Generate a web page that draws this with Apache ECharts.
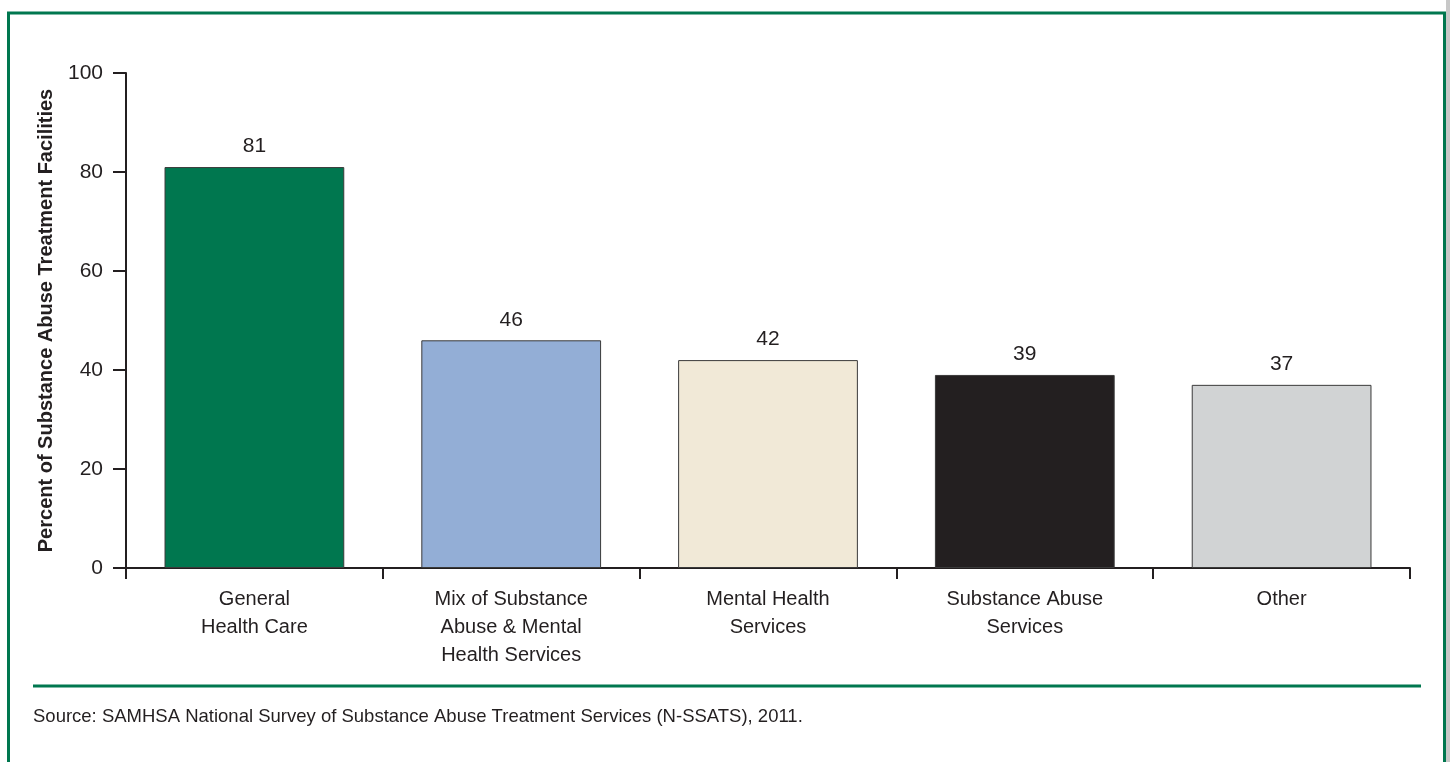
<!DOCTYPE html>
<html>
<head>
<meta charset="utf-8">
<script src="https://cdn.jsdelivr.net/npm/echarts@6/dist/echarts.min.js"></script>
<style>
  html, body { margin: 0; padding: 0; background: #ffffff; }
  #chart { width: 1450px; height: 762px; }
</style>
</head>
<body>
<div id="chart"></div>
<script>
// Facility types and the share of facilities offering each
const categories = [
  'General\nHealth Care',
  'Mix of Substance\nAbuse & Mental\nHealth Services',
  'Mental Health\nServices',
  'Substance Abuse\nServices',
  'Other'
];
const values = [81, 46, 42, 39, 37];
const barColors = ['#00774f', '#93aed6', '#f1e9d7', '#231f20', '#d1d3d4'];
const yTicks = [0, 20, 40, 60, 80, 100];
const yTitle = 'Percent of Substance Abuse Treatment Facilities';
const sourceNote = 'Source: SAMHSA National Survey of Substance Abuse Treatment Services (N-SSATS), 2011.';

const green = '#00774f';
const ink = '#231f20';
const narrow = '"Liberation Sans Narrow", "Arial Narrow", "Liberation Sans", Arial, sans-serif';

const chart = echarts.init(document.getElementById('chart'), null, { renderer: 'canvas' });

chart.setOption({
  animation: false,
  backgroundColor: '#ffffff',
  grid: { left: 126, right: 40, top: 73, bottom: 194, containLabel: false },
  xAxis: {
    type: 'category',
    data: categories,
    boundaryGap: true,
    axisLine: { lineStyle: { color: ink, width: 2 } },
    axisTick: { show: true, length: 11, lineStyle: { color: ink, width: 2 } },
    axisLabel: {
      color: ink, fontFamily: narrow, fontSize: 20, lineHeight: 28, margin: 17
    }
  },
  yAxis: {
    type: 'value',
    min: yTicks[0],
    max: yTicks[yTicks.length - 1],
    interval: yTicks[1] - yTicks[0],
    name: yTitle,
    nameLocation: 'middle',
    nameGap: 70,
    nameTextStyle: { color: ink, fontFamily: narrow, fontSize: 20, fontWeight: 'bold' },
    axisLine: { show: true, lineStyle: { color: ink, width: 2 } },
    axisTick: { show: true, inside: false, length: 13, lineStyle: { color: ink, width: 2 } },
    axisLabel: { color: ink, fontFamily: narrow, fontSize: 21, margin: 23 },
    splitLine: { show: false }
  },
  series: [{
    type: 'bar',
    data: values.map((v, i) => ({
      value: v,
      itemStyle: { color: barColors[i], borderColor: '#3a3a3a', borderWidth: 1 }
    })),
    barWidth: '70%',
    label: {
      show: true, position: 'top', distance: 10,
      color: ink, fontFamily: narrow, fontSize: 21
    }
  }],
  graphic: [
    // outer frame
    { type: 'line', shape: { x1: 7, y1: 13, x2: 1450, y2: 13 }, style: { stroke: green, lineWidth: 3 } },
    { type: 'line', shape: { x1: 8.5, y1: 13, x2: 8.5, y2: 762 }, style: { stroke: green, lineWidth: 3 } },
    { type: 'line', shape: { x1: 1444.5, y1: 13, x2: 1444.5, y2: 762 }, style: { stroke: green, lineWidth: 3 } },
    { type: 'rect', shape: { x: 1446, y: 0, width: 4, height: 762 }, style: { fill: '#c8c8c8' } },
    // rule above the source note
    { type: 'line', shape: { x1: 33, y1: 686, x2: 1421, y2: 686 }, style: { stroke: green, lineWidth: 3 } },
    {
      type: 'text', left: 33, top: 707,
      style: { text: sourceNote, fill: ink, font: '18.5px "Liberation Sans", Arial, sans-serif' }
    }
  ]
});
</script>
</body>
</html>
